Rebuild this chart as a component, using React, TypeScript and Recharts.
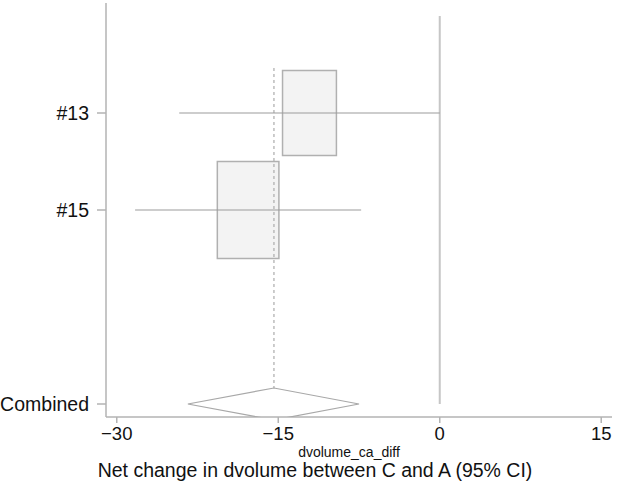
import {
  ScatterChart,
  Scatter,
  XAxis,
  YAxis,
  ReferenceLine,
  ReferenceArea,
  Label,
} from "recharts";

// study rows (y position = row index, row 3 left blank)
const studies = ["#13", "#15"];
const studyRows = [1, 2];
const estimates = [-12.1, -17.8];
const lowerCI = [-24.2, -28.3];
const upperCI = [0.0, -7.3];
const boxSizes = [0.875, 1.0]; // relative to largest study weight

const combined = { row: 4, est: -15.4, lo: -23.4, hi: -7.5 };

const xTicks = [-30, -15, 0, 15];
const yTicks = [1, 2, 4];
const yLabels: Record<number, string> = { 1: "#13", 2: "#15", 4: "Combined" };

// box and diamond dimensions in data units
const BOX_HALF_W = 2.86;
const BOX_HALF_H = 0.5;
const DIAMOND_HALF_H = 0.165;

const diamond = [
  { x: combined.lo, y: combined.row },
  { x: combined.est, y: combined.row - DIAMOND_HALF_H },
  { x: combined.hi, y: combined.row },
  { x: combined.est, y: combined.row + DIAMOND_HALF_H },
  { x: combined.lo, y: combined.row },
];

const font = "'Liberation Sans', Arial, Helvetica, sans-serif";
const axisGray = "#b3b3b3";
const lineGray = "#9c9c9c";

const fmt = (v: number) => (v < 0 ? `\u2212${-v}` : `${v}`);

const App: React.FC = () => {
  return (
    <div style={{ position: "absolute", left: 0, top: 0 }}>
      <ScatterChart
        width={618}
        height={485}
        margin={{ top: 3, right: 6, bottom: 0, left: 0 }}
        style={{ fontFamily: font }}
      >
        <XAxis
          type="number"
          dataKey="x"
          domain={[-31, 16]}
          ticks={xTicks}
          tickFormatter={fmt}
          allowDataOverflow
          height={68}
          tickSize={6}
          tickMargin={4}
          stroke={axisGray}
          strokeWidth={1.5}
          tick={{ fill: "#111", fontSize: 18.5 }}
        >
          <Label
            value="dvolume_ca_diff"
            position="insideBottom"
            offset={28}
            dx={-10}
            style={{ fill: "#111", fontSize: 14 }}
          />
          <Label
            value="Net change in dvolume between C and A (95% CI)"
            position="insideBottom"
            offset={8}
            dx={-44}
            style={{ fill: "#111", fontSize: 19.5 }}
          />
        </XAxis>
        <YAxis
          type="number"
          dataKey="y"
          domain={[-0.134, 4.134]}
          reversed
          ticks={yTicks}
          tickFormatter={(v: number) => yLabels[v] ?? ""}
          allowDataOverflow
          width={106}
          tickSize={9}
          tickMargin={8}
          stroke={axisGray}
          strokeWidth={1.5}
          tick={{ fill: "#111", fontSize: 19.5 }}
        />

        {studies.map((s, i) => (
          <ReferenceArea
            key={`box-${s}`}
            x1={estimates[i] - BOX_HALF_W * boxSizes[i]}
            x2={estimates[i] + BOX_HALF_W * boxSizes[i]}
            y1={studyRows[i] - BOX_HALF_H * boxSizes[i]}
            y2={studyRows[i] + BOX_HALF_H * boxSizes[i]}
            fill="#f3f3f3"
            fillOpacity={1}
            stroke="#b0b0b0"
            strokeWidth={1.5}
          />
        ))}

        <ReferenceLine
          segment={[
            { x: 0, y: 0 },
            { x: 0, y: combined.row },
          ]}
          stroke="#c6c6c6"
          strokeWidth={2}
        />

        <ReferenceLine
          segment={[
            { x: combined.est, y: 0.536 },
            { x: combined.est, y: combined.row - DIAMOND_HALF_H },
          ]}
          stroke="#ababab"
          strokeWidth={1.2}
          strokeDasharray="3 3"
        />

        {studies.map((s, i) => (
          <ReferenceLine
            key={`ci-${s}`}
            segment={[
              { x: lowerCI[i], y: studyRows[i] },
              { x: upperCI[i], y: studyRows[i] },
            ]}
            stroke={lineGray}
            strokeWidth={1.2}
          />
        ))}

        <Scatter
          data={diamond}
          line={{ stroke: "#a8a8a8", strokeWidth: 1.2, fill: "none" }}
          lineType="joint"
          shape={() => <g />}
          isAnimationActive={false}
        />
      </ScatterChart>
    </div>
  );
};

export default App;
